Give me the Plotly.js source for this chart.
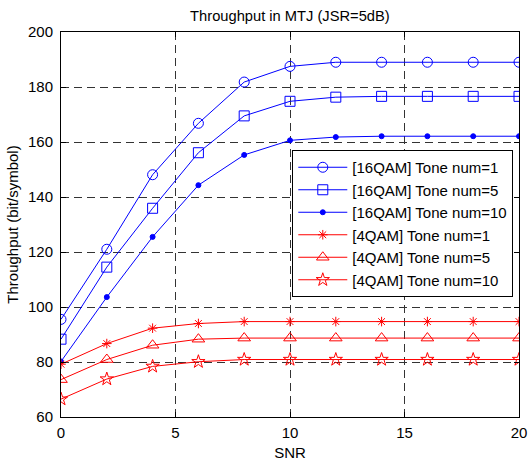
<!DOCTYPE html>
<html>
<head>
<meta charset="utf-8">
<script src="https://cdn.plot.ly/plotly-3.0.1.min.js"></script>
<style>body{margin:0;padding:0;background:#fff;} #chart{width:529px;height:462px;}</style>
</head>
<body>
<div id="chart"></div>
<script>
const snr = [0, 2, 4, 6, 8, 10, 12, 14, 16, 18, 20];
const qam16_tone1  = [95.5, 121, 148.1, 166.8, 181.8, 187.5, 189, 189, 189, 189, 189];
const qam16_tone5  = [88.3, 114.5, 135.9, 156.1, 169.5, 174.8, 176.3, 176.6, 176.6, 176.6, 176.6];
const qam16_tone10 = [80.2, 103.6, 125.5, 144.3, 155.3, 160.6, 161.8, 162.1, 162.1, 162.1, 162.1];
const qam4_tone1   = [79.2, 86.7, 92.3, 94.0, 94.7, 94.7, 94.7, 94.7, 94.7, 94.7, 94.7];
const qam4_tone5   = [73.6, 80.9, 86.1, 88.3, 88.7, 88.7, 88.7, 88.7, 88.7, 88.7, 88.7];
const qam4_tone10  = [66.5, 73.8, 78.4, 80.1, 80.9, 80.9, 80.9, 80.9, 80.9, 80.9, 80.9];
const names = ['[16QAM] Tone num=1','[16QAM] Tone num=5','[16QAM] Tone num=10','[4QAM] Tone num=1','[4QAM] Tone num=5','[4QAM] Tone num=10'];

const blue = '#0000ff', red = '#ff0000';
function tr(y, name, color, symbol, size) {
  return {x: snr, y: y, name: name, type: 'scatter', mode: 'lines+markers',
    line: {color: color, width: 1},
    marker: {symbol: symbol, size: size, color: color, line: {color: color, width: 1}}};
}
const data = [
  tr(qam16_tone1, names[0], blue, 'circle-open', 10),
  tr(qam16_tone5, names[1], blue, 'square-open', 10),
  tr(qam16_tone10, names[2], blue, 'circle', 5),
  tr(qam4_tone1, names[3], red, 'asterisk-open', 8),
  tr(qam4_tone5, names[4], red, 'triangle-up-open', 11),
  tr(qam4_tone10, names[5], red, 'star-open', 10)
];
const font = {family: 'Liberation Sans, Arial, sans-serif', color: '#000'};
const layout = {
  width: 529, height: 462,
  margin: {l: 61, r: 10, t: 32, b: 45},
  paper_bgcolor: '#fff', plot_bgcolor: '#fff',
  font: Object.assign({size: 15}, font),
  title: {text: 'Throughput in MTJ (JSR=5dB)', font: Object.assign({size: 14.7}, font), x: 0.548, xanchor: 'center', y: 0.966, yanchor: 'middle'},
  xaxis: {range: [0, 20], tickvals: [0, 5, 10, 15, 20], ticks: 'inside', ticklen: 5, tickcolor: '#000',
    showline: true, linecolor: '#000', linewidth: 1, mirror: 'allticks', zeroline: false,
    showgrid: true, gridcolor: '#333', griddash: '8px,5px', gridwidth: 1,
    ticklabelstandoff: 2,
    tickfont: Object.assign({size: 15}, font),
    title: {text: 'SNR', font: Object.assign({size: 15}, font), standoff: 7}},
  yaxis: {range: [60, 200], tickvals: [60, 80, 100, 120, 140, 160, 180, 200], ticks: 'inside', ticklen: 5, tickcolor: '#000',
    showline: true, linecolor: '#000', linewidth: 1, mirror: 'allticks', zeroline: false,
    showgrid: true, gridcolor: '#333', griddash: '8px,5px', gridwidth: 1,
    ticklabelstandoff: 4,
    tickfont: Object.assign({size: 15}, font),
    title: {text: 'Throughput (bit/symbol)', font: Object.assign({size: 15}, font), standoff: 5}},
  showlegend: true,
  legend: {x: 0.505, y: 0.6935, xanchor: 'left', yanchor: 'top', bgcolor: '#fff', bordercolor: '#000', borderwidth: 1,
    itemwidth: 49,
    font: Object.assign({size: 15}, font), tracegroupgap: 0}
};
Plotly.newPlot('chart', data, layout, {displayModeBar: false, staticPlot: true});
</script>
</body>
</html>
